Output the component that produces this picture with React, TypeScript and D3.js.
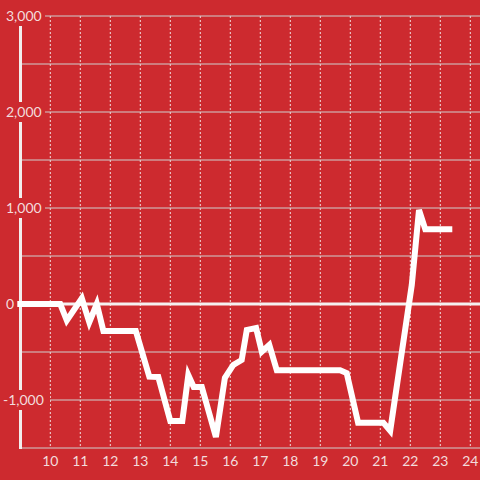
import React from "react";
import * as d3 from "d3";

const xVals = [8.9, 10.33, 10.55, 11.05, 11.3, 11.55, 11.77, 12.85, 13.3, 13.6, 14.0, 14.4, 14.6, 14.78, 15.05, 15.52, 15.82, 16.1, 16.38, 16.55, 16.86, 17.05, 17.3, 17.55, 19.66, 19.88, 20.26, 21.1, 21.33, 22.05, 22.29, 22.5, 23.4];
const yVals = [0, 0, -170, 60, -190, 0, -280, -280, -757, -760, -1220, -1220, -740, -865, -865, -1385, -770, -635, -583, -270, -250, -497, -427, -690, -690, -720, -1236, -1236, -1320, 200, 980, 778, 778];
const xTicks = [10, 11, 12, 13, 14, 15, 16, 17, 18, 19, 20, 21, 22, 23, 24];
const yGrid = [-1500, -1000, -500, 0, 500, 1000, 1500, 2000, 2500, 3000];
const yLabels = [3000, 2000, 1000, 0, -1000];

const BG = "#cd2a2f";
const TXT = "#f3dcdc";
const FONT = "Lato, 'Liberation Sans', sans-serif";

function textWidth(s: string) {
  let w = 0;
  for (const c of s) w += c === "," ? 3.6 : c === "-" ? 5 : 8.1;
  return w;
}

export default function App() {
  const W = 480, H = 480;
  const x = d3.scaleLinear().domain([10, 24]).range([50.3, 470.3]);
  const y = d3.scaleLinear().domain([-1500, 3000]).range([448, 16]);
  const left = 21;
  const data = xVals.map((v, i) => [v, yVals[i]] as [number, number]);
  const line = d3.line<[number, number]>().x(d => x(d[0])).y(d => y(d[1]));
  const fmt = d3.format(",");
  return (
    <svg width={W} height={H} style={{ position: "absolute", left: 0, top: 0, display: "block" }}>
      <rect x={0} y={0} width={W} height={H} fill={BG} />
      {xTicks.map(t => (
        <line key={"vx" + t} x1={x(t)} x2={x(t)} y1={16} y2={448} stroke="#f0e0e0" strokeWidth={1} strokeDasharray="2,2" />
      ))}
      {yGrid.filter(v => v !== 0).map(v => (
        <line key={"gy" + v} x1={left} x2={W} y1={y(v)} y2={y(v)} stroke="#cfcfcf" strokeWidth={1} />
      ))}
      <line x1={left} x2={W} y1={y(0)} y2={y(0)} stroke="#f5f0f0" strokeWidth={3} />
      <line x1={20.5} x2={20.5} y1={16} y2={449} stroke="#f2eeee" strokeWidth={3} />
      {yLabels.map(v => {
        const s = fmt(v).replace("−", "-");
        const tw = textWidth(s);
        return (
          <g key={"yl" + v}>
            <rect x={1} y={y(v) - 10} width={tw + 8} height={20} fill={BG} />
            <text x={v < 0 ? 3 : 6} y={y(v)} dy="0.36em" textAnchor="start" fill={TXT} fontFamily={FONT} fontSize={14}>{s}</text>
          </g>
        );
      })}
      <path d={line(data) || ""} fill="none" stroke="#ffffff" strokeWidth={6} strokeLinejoin="miter" strokeLinecap="butt" />
      {xTicks.map(t => (
        <text key={"xl" + t} x={x(t)} y={461} dy="0.36em" textAnchor="middle" fill={TXT} fontFamily={FONT} fontSize={14}>{t}</text>
      ))}
    </svg>
  );
}
